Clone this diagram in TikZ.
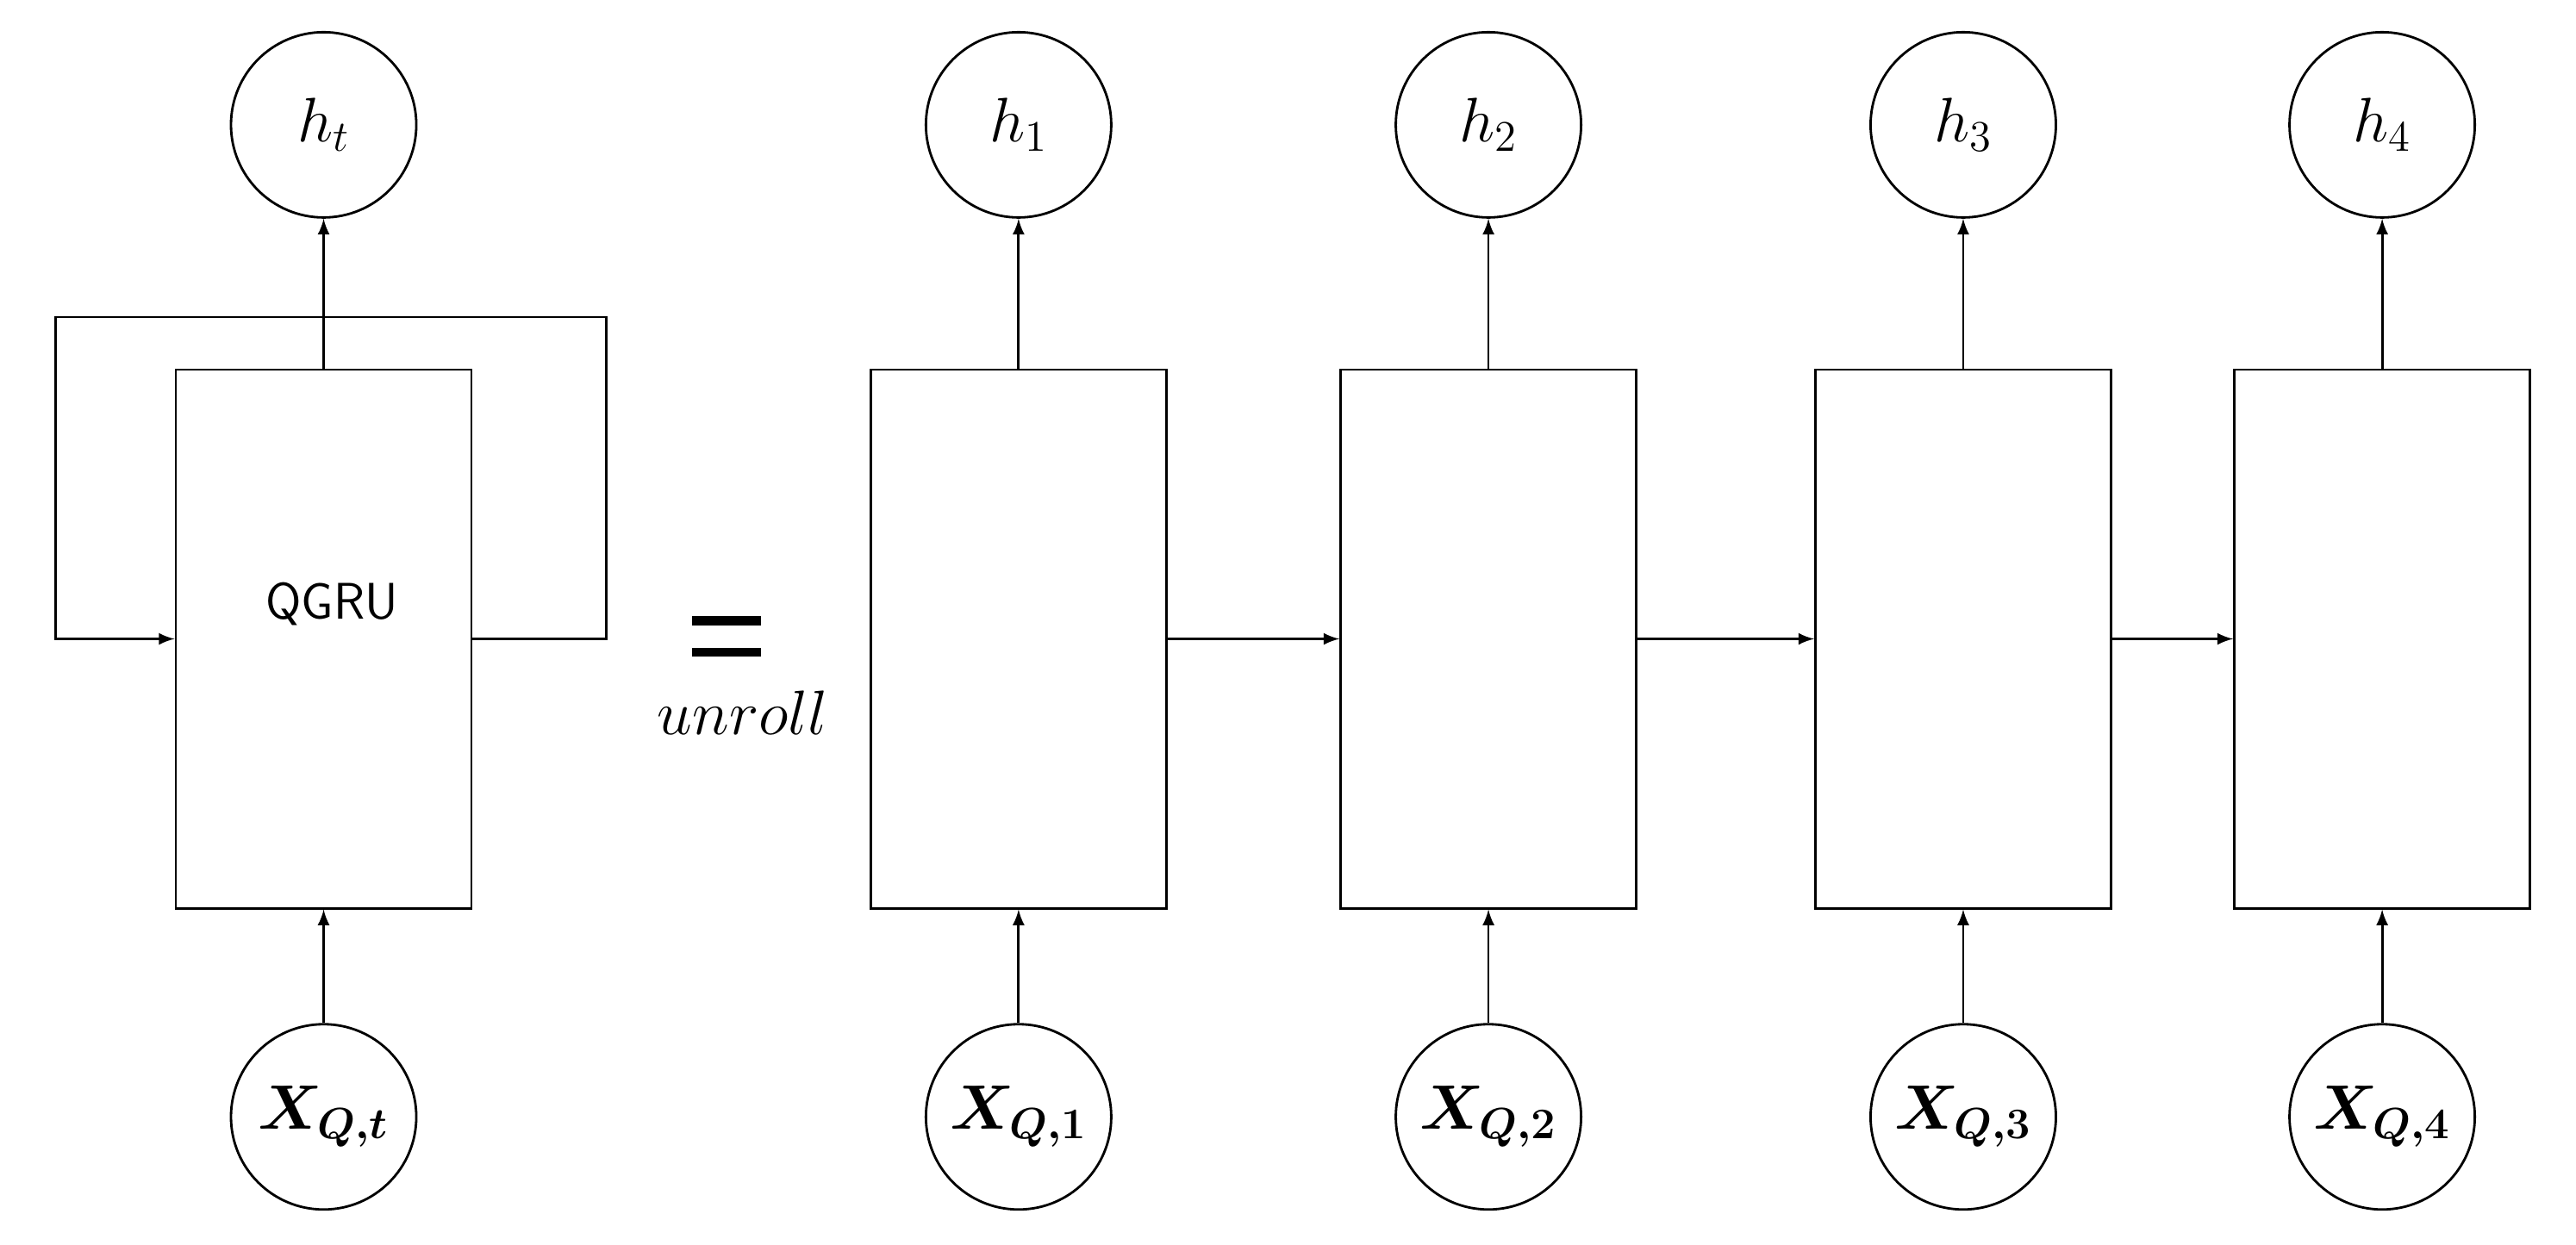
\documentclass[tikz,border=0pt]{standalone}
\usepackage{bm}
\usetikzlibrary{positioning}
\begin{document}
\begin{tikzpicture}
		[
		x=0.01906cm, y=-0.01906cm, >=latex,
		font=\fontsize{20}{24}\selectfont,
		%Stile
		unit/.style={draw, line width=0.8pt, minimum width=3.43cm, minimum height=6.25cm, inner sep=0pt},
		state/.style={draw, circle, line width=0.8pt, minimum size=2.15cm, inner sep=0pt},
		conn/.style={-latex, line width=0.8pt}
		]
		
		\useasboundingbox (0,0) rectangle (1568,758);
		
		%Gefaltete Zelle
		\node[unit] (cell) at (197,389) {};
		\node[font=\sffamily\fontsize{17}{20}\selectfont] at (202,368) {QGRU};
		\node[state] (ht) at (197,76) {$h_t$};
		\node[state] (xt) at (197,680) {$\bm{X}_{\bm{Q,t}}$};
		\draw[conn] (cell.north) -- (ht);
		\draw[conn] (xt) -- (cell.south);
		\coordinate (lr) at (369,193);
		\coordinate (ll) at (34,193);
		\draw[conn] (cell.east) -- (cell.east -| lr) -- (lr) -- (ll) -- (cell.west -| ll) -- (cell.west);
		
		%Gleichheitszeichen
		\draw[line width=3pt] (421,378) -- (463,378) (421,397) -- (463,397);
		\node (unroll) at (452,434) {$unroll$};
		
		%Ausgerollte Zellen
		\foreach \i/\x in {1/620,2/906,3/1195,4/1450}
		{
			\node[unit] (c\i) at (\x,389) {};
			\node[state] (h\i) at (\x,76) {$h_{\i}$};
			\node[state] (x\i) at (\x,680) {$\bm{X}_{\bm{Q,\i}}$};
			\draw[conn] (c\i.north) -- (h\i);
			\draw[conn] (x\i) -- (c\i.south);
		}
		\foreach \a/\b in {1/2,2/3,3/4}
		\draw[conn] (c\a.east) -- (c\b.west);
	\end{tikzpicture}
\end{document}
